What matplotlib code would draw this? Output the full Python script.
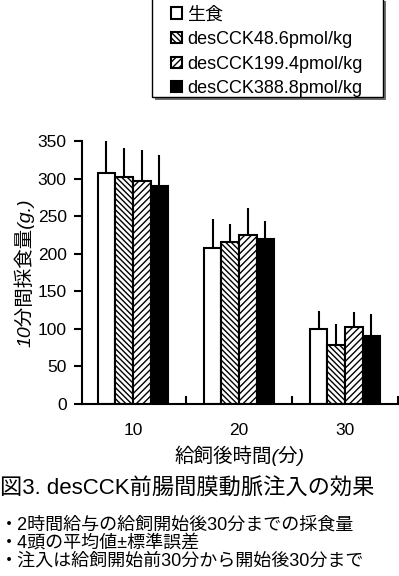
import matplotlib
matplotlib.use("Agg")
import matplotlib.pyplot as plt
from matplotlib.patches import Rectangle
import numpy as np

plt.rcParams['font.family'] = ['Liberation Sans', 'Noto Sans CJK JP']
plt.rcParams['hatch.linewidth'] = 1.0

# data
times = ['10', '20', '30']
labels = ['生食', 'desCCK48.6pmol/kg', 'desCCK199.4pmol/kg', 'desCCK388.8pmol/kg']
saline = [307, 208, 100]
saline_se = [44, 38, 24]
dose48 = [302, 215, 78]
dose48_se = [39, 25, 28]
dose199 = [297, 225, 102]
dose199_se = [41, 36, 21]
dose388 = [290, 219, 90]
dose388_se = [41, 25, 30]

means = [saline, dose48, dose199, dose388]
errs = [saline_se, dose48_se, dose199_se, dose388_se]
faces = ['white', 'white', 'white', 'black']
hatches = [None, '\\\\\\\\\\\\', '/////', None]

W, H = 399, 576
fig = plt.figure(figsize=(W / 100, H / 100), dpi=100)
ax = fig.add_axes([82 / W, 172 / H, 316 / W, 263 / H])

x = np.arange(len(times))
w = 0.166
for i in range(4):
    pos = x + (i - 1.5) * w
    ax.bar(pos, means[i], w, color=faces[i], edgecolor='black',
           linewidth=1.5, hatch=hatches[i], label=labels[i], zorder=2)
    # upward error bars only
    ax.vlines(pos, means[i], np.array(means[i]) + np.array(errs[i]),
              color='black', linewidth=1.5, zorder=1)

ax.set_xlim(-0.48, 2.5)
ax.set_ylim(0, 350)
ax.set_yticks(range(0, 351, 50))
ax.set_xticks(x)
ax.set_xticklabels(times)
ax.set_xticks([0.5, 1.5, 2.5], minor=True)
ax.tick_params(axis='x', which='major', length=0, pad=14, labelsize=12.5)
ax.tick_params(axis='x', which='minor', direction='in', length=6, width=1.5)
ax.tick_params(axis='y', direction='out', length=6, width=1.5, labelsize=12.5, pad=5)

for s in ['top', 'right']:
    ax.spines[s].set_visible(False)
for s in ['left', 'bottom']:
    ax.spines[s].set_linewidth(1.5)

ax.set_ylabel('10分間採食量(g.)', fontsize=14, style='italic', labelpad=2)
ax.set_xlabel('給飼後時間(分)', fontsize=14, style='italic', labelpad=5)

# legend box with a small shadow, drawn by hand to match the wide frame
fig.patches.append(Rectangle((155 / W, 1 - 100 / H), 231 / W, 99 / H,
                             transform=fig.transFigure, facecolor='#707070',
                             edgecolor='none', zorder=0))
fig.patches.append(Rectangle((152 / W, 1 - 97 / H), 231 / W, 99 / H,
                             transform=fig.transFigure, facecolor='white',
                             edgecolor='black', linewidth=1.0, zorder=1))
leg = fig.legend(loc='upper left', bbox_to_anchor=(166 / W, 1 - 1 / H),
                 fontsize=13, frameon=False,
                 handlelength=0.57, handleheight=0.57,
                 handletextpad=0.3, labelspacing=0.42, borderpad=0.3,
                 borderaxespad=0.0)
leg.set_zorder(2)

fig.text(0.0, 1 - 489 / H, '図3. desCCK前腸間膜動脈注入の効果',
         fontsize=16, va='center', ha='left')
notes = ['・2時間給与の給飼開始後30分までの採食量',
         '・4頭の平均値±標準誤差',
         '・注入は給飼開始前30分から開始後30分まで']
for k, line in enumerate(notes):
    fig.text(0.0, 1 - (525 + 18 * k) / H, line, fontsize=13,
             va='center', ha='left')

fig.savefig('out.png', dpi=100)
